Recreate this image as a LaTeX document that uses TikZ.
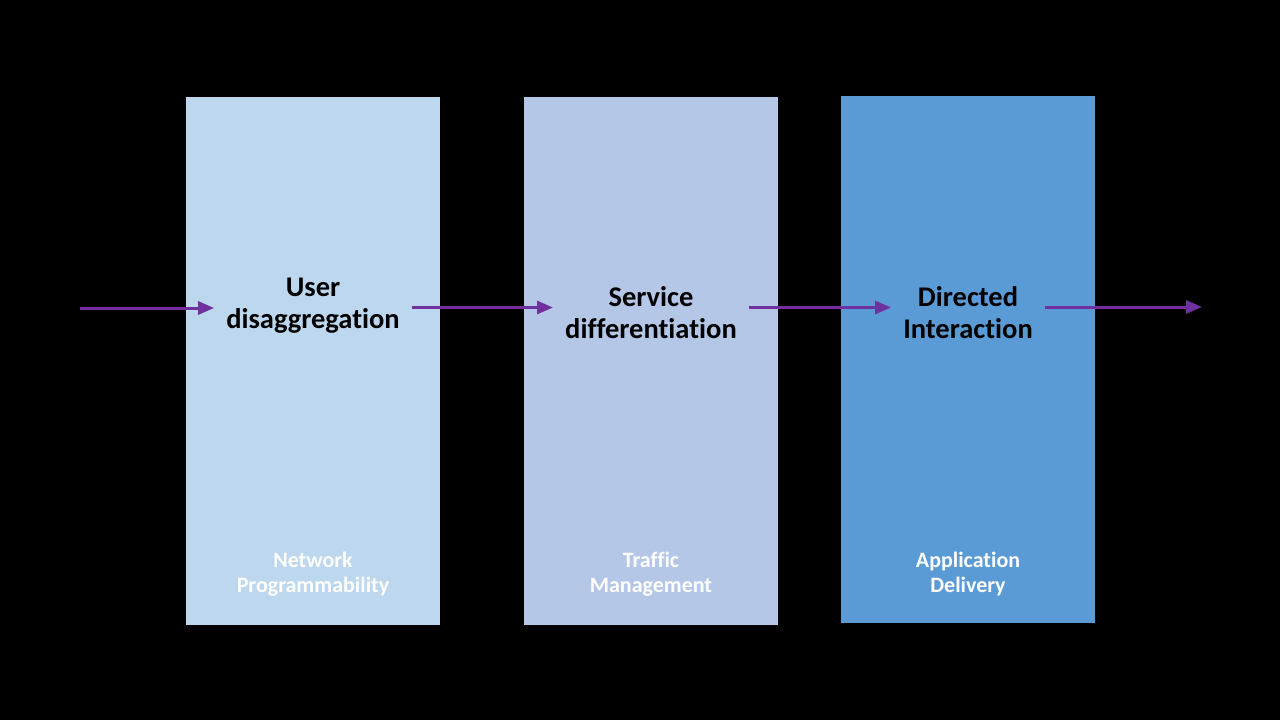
\documentclass[tikz,border=0pt]{standalone}
\usepackage{fontspec}
\setmainfont{Carlito}[Ligatures=NoCommon]
\usetikzlibrary{arrows.meta}
\definecolor{boxA}{HTML}{BDD7EE}
\definecolor{boxB}{HTML}{B4C7E7}
\definecolor{boxC}{HTML}{5B9BD5}
\definecolor{arrowpurple}{HTML}{7030A0}
\tikzset{
  panel/.style={anchor=north west, inner sep=0pt, outer sep=0pt},
  title/.style={font=\bfseries\fontsize{28.5}{32}\selectfont, align=center, text=black, inner xsep=12pt, inner ysep=0pt},
  sub/.style={font=\bfseries\fontsize{22}{25}\selectfont, align=center, text=white, inner sep=0pt},
  arr/.style={draw=arrowpurple, line width=3pt, -{Triangle[length=16pt,width=13pt]}}
}
\begin{document}
\begin{tikzpicture}[x=1pt,y=-1pt]
\fill[black] (0,0) rectangle (1280,720);
\useasboundingbox (0,0) rectangle (1280,720);
\node[panel, fill=boxA, minimum width=254pt, minimum height=528pt] (b1) at (186,97) {};
\node[panel, fill=boxB, minimum width=254pt, minimum height=528pt] (b2) at (524,97) {};
\node[panel, fill=boxC, minimum width=254pt, minimum height=527pt] (b3) at (841,96) {};
\node[title] (t1) at (313,306) {User\\disaggregation};
\node[title] (t2) at (651,313) {Service\\differentiation};
\node[title] (t3) at (968,313) {Directed\\Interaction};
\node[sub] (s1) at (313,574) {Network\\Programmability};
\node[sub] (s2) at (651,574) {Traffic\\Management};
\node[sub] (s3) at (968,574) {Application\\Delivery};
\coordinate (in) at (80,308);
\coordinate (mid) at (0,307.5);
\coordinate (out) at (1202,307);
\draw[arr] (in) -- (t1.west |- in);
\draw[arr] (t1.east |- mid) -- (t2.west |- mid);
\draw[arr] (t2.east |- mid) -- (t3.west |- mid);
\draw[arr] (t3.east |- out) -- (out);
\end{tikzpicture}
\end{document}
